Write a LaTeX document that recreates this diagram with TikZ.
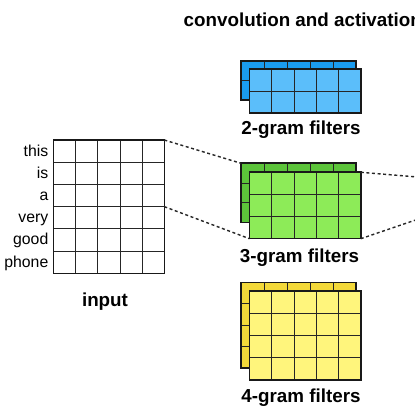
\documentclass[tikz,border=0pt]{standalone}
\usepackage{fontspec}
\setmainfont{Liberation Sans}
\usetikzlibrary{calc}
\definecolor{blueB}{HTML}{1A9CF0}
\definecolor{blueF}{HTML}{5BBEFA}
\definecolor{greenB}{HTML}{5CC43A}
\definecolor{greenF}{HTML}{8DEB58}
\definecolor{yellowB}{HTML}{F3D93A}
\definecolor{yellowF}{HTML}{FFF57C}
\tikzset{
  gridbox/.style={rectangle, inner sep=0pt, outer sep=0pt, anchor=north west},
  border/.style={line width=1.6pt, draw=black!90},
  cellline/.style={line width=0.8pt, draw=black!85},
  word/.style={font=\fontsize{15.8}{18}\selectfont, anchor=base east, inner sep=0pt},
  caption/.style={font=\bfseries\fontsize{18.8}{21}\selectfont, anchor=base, inner sep=0pt},
  conn/.style={dash pattern=on 3pt off 2.6pt, line width=1.4pt, draw=black!85},
}
% name, x, y, width, height, cols, rows, fill
\newcommand\fgrid[8]{%
  \node[gridbox, fill=#8, minimum width=#4, minimum height=#5] (#1) at (#2,#3) {};
  \pgfmathtruncatemacro\colsm{#6-1}%
  \pgfmathtruncatemacro\rowsm{#7-1}%
  \foreach \k in {1,...,\colsm}
    \draw[cellline] ($(#1.north west)!\k/#6!(#1.north east)$) -- ($(#1.south west)!\k/#6!(#1.south east)$);
  \foreach \k in {1,...,\rowsm}
    \draw[cellline] ($(#1.north west)!\k/#7!(#1.south west)$) -- ($(#1.north east)!\k/#7!(#1.south east)$);
  \draw[border] (#1.north west) rectangle (#1.south east);
}
\begin{document}
\begin{tikzpicture}[x=1pt, y=-1pt]
\useasboundingbox (0,0) rectangle (415,414);
\fill[white] (0,0) rectangle (415,414);

% title
\node[caption, anchor=base west] (title) at (183.5,26.5) {convolution and activation};

% input matrix
\fgrid{inp}{53.3}{140}{111}{133.3}{5}{6}{white}
\foreach \w [count=\i from 0] in {this,is,a,very,good,phone}
  \node[word] (w\i) at (48.5,{151.1+22.2*\i+5}) {\w};
\node[caption] (inlab) at (105,306.5) {input};

% 2-gram filters
\fgrid{gtwob}{241}{61}{115}{39}{5}{2}{blueB}
\fgrid{gtwof}{249.5}{69.3}{111.3}{44}{5}{2}{blueF}
\node[caption] (lab2) at (301,135) {2-gram filters};

% 3-gram filters
\fgrid{gthreeb}{241}{163.3}{115}{59.4}{5}{3}{greenB}
\fgrid{gthreef}{249.5}{172.3}{111.3}{66.4}{5}{3}{greenF}
\node[caption] (lab3) at (299.5,262.3) {3-gram filters};

% 4-gram filters
\fgrid{gfourb}{241}{282.3}{115}{85.7}{5}{4}{yellowB}
\fgrid{gfourf}{249.5}{290.8}{111.3}{89.4}{5}{4}{yellowF}
\node[caption] (lab4) at (301,402.3) {4-gram filters};

% connectors
\coordinate (inmid) at ($(inp.north east)!0.5!(inp.south east)$);
\coordinate (r1) at (415,176.8);
\coordinate (r2) at (415,220.2);
\draw[conn] (inp.north east) -- (gthreeb.north west);
\draw[conn] (inmid) -- (gthreef.south west);
\draw[conn] (gthreef.north east) -- (r1);
\draw[conn] (gthreef.south east) -- (r2);
\end{tikzpicture}
\end{document}
